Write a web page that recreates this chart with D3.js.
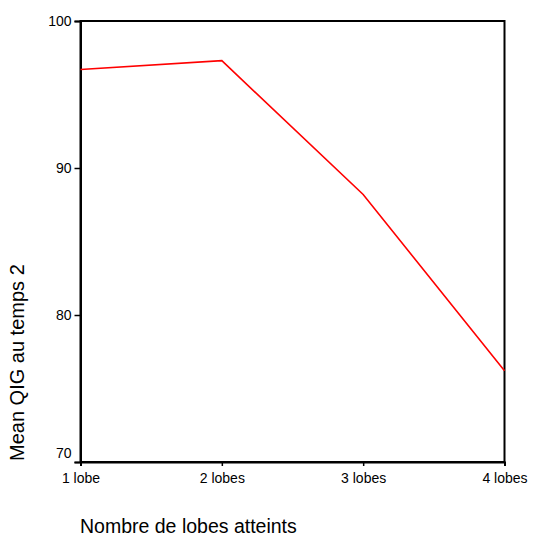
<!DOCTYPE html>
<html><head><meta charset="utf-8">
<script src="https://cdn.jsdelivr.net/npm/d3@7"></script>
<style>body{margin:0;background:#fff}svg{display:block}text{font-family:Arial,"Liberation Sans",sans-serif;fill:#000}</style>
</head><body>
<svg id="c" width="533" height="537"></svg>
<script>
const categories = ["1 lobe", "2 lobes", "3 lobes", "4 lobes"];
const meanQIG = [96.7, 97.3, 88.2, 76.2];
const yTicks = [70, 80, 90, 100];

const L = 80.5, R = 504.5, T = 21, B = 462;
const svg = d3.select("#c");
const x = d3.scalePoint().domain(categories).range([L, R]).padding(0);
const y = d3.scaleLinear().domain([70, 100]).range([B, T]);

// frame
svg.append("rect").attr("x", L).attr("y", T).attr("width", R - L).attr("height", B - T)
  .attr("fill", "none").attr("stroke", "#000").attr("stroke-width", 2);

const ya = svg.append("g").attr("transform", `translate(${L},0)`)
  .call(d3.axisLeft(y).tickValues(yTicks).tickSize(6).tickPadding(3).tickFormat(d3.format("d")));
ya.select(".domain").attr("stroke-width", 2);
ya.selectAll(".tick line").attr("stroke-width", 1.5);
ya.selectAll(".tick text").attr("font-size", 14).attr("font-family", "Arial, 'Liberation Sans', sans-serif")
  .attr("y", d => d === yTicks[0] ? -8.5 : 0);

const xa = svg.append("g").attr("transform", `translate(0,${B})`)
  .call(d3.axisBottom(x).tickSize(4).tickPadding(7));
xa.select(".domain").attr("stroke-width", 2);
xa.selectAll(".tick line").attr("stroke-width", 1.5);
xa.selectAll(".tick text").attr("font-size", 14).attr("font-family", "Arial, 'Liberation Sans', sans-serif");

const line = d3.line().x((d, i) => x(categories[i])).y(d => y(d));
svg.append("path").datum(meanQIG).attr("d", line)
  .attr("fill", "none").attr("stroke", "#ff0000").attr("stroke-width", 1.6);

svg.append("text").attr("x", 80).attr("y", 533).attr("font-size", 19.5)
  .text("Nombre de lobes atteints");
svg.append("text").attr("transform", "translate(24,461) rotate(-90)").attr("font-size", 20)
  .text("Mean QIG au temps 2");
</script>
</body></html>
